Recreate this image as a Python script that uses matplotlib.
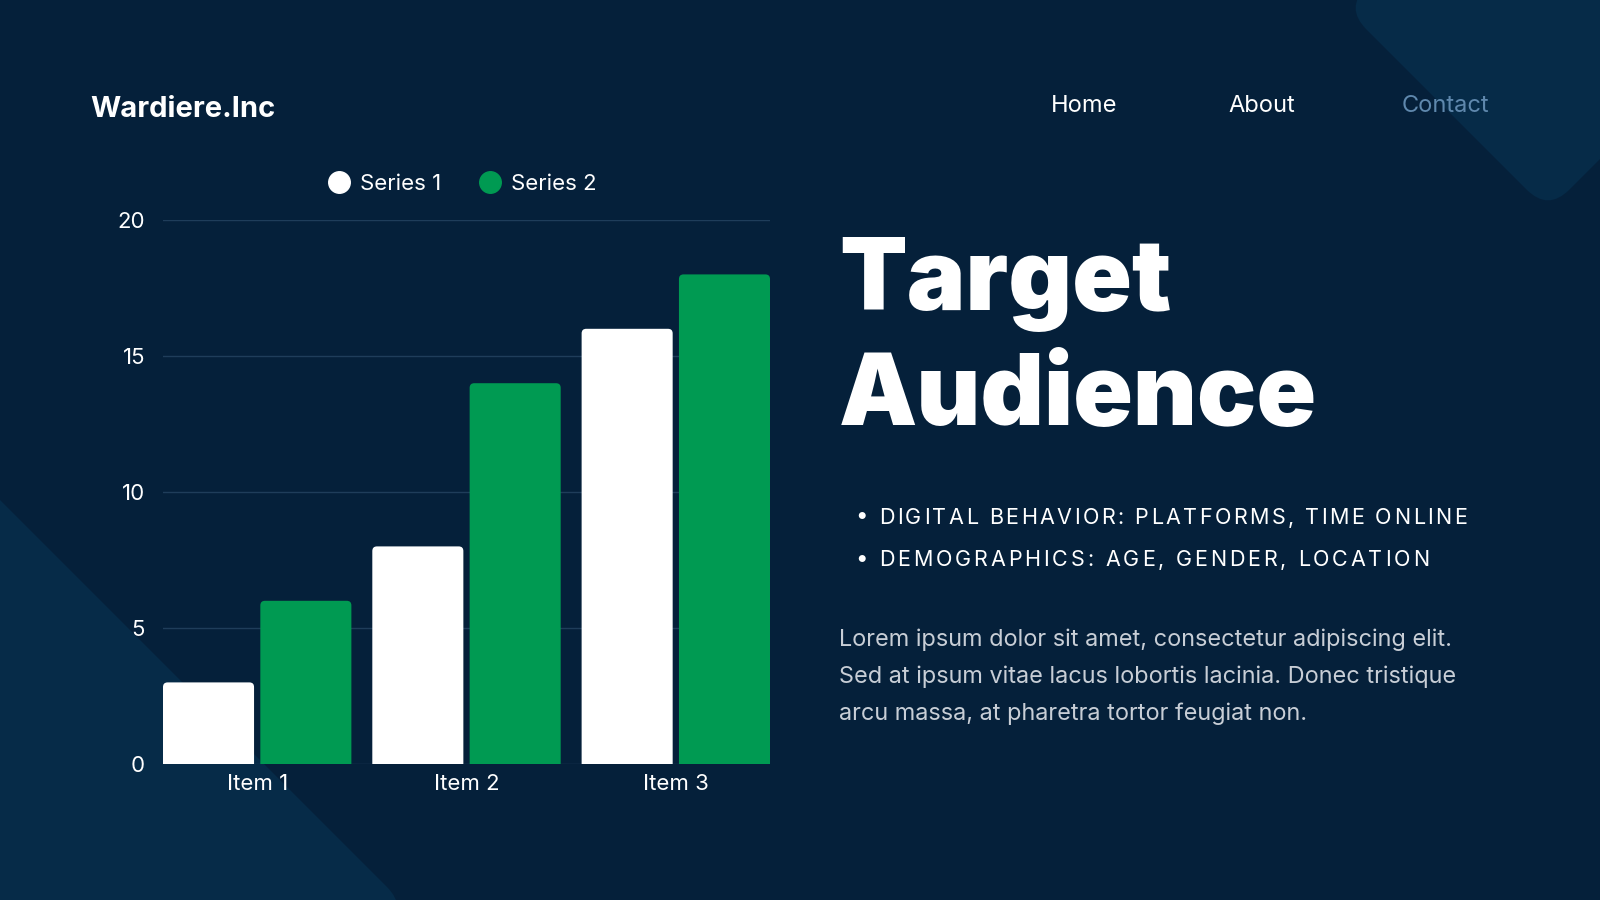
import numpy as np
import matplotlib
matplotlib.use("Agg")
import matplotlib.pyplot as plt
import matplotlib.font_manager as fm
from matplotlib.patches import FancyBboxPatch
from matplotlib.lines import Line2D
from matplotlib.transforms import Affine2D

# --- data ---
categories = ["Item 1", "Item 2", "Item 3"]
series_names = ["Series 1", "Series 2"]
series_1 = [3, 8, 16]
series_2 = [6, 14, 18]
y_ticks = [0, 5, 10, 15, 20]

brand = "Wardiere.Inc"
nav_items = ["Home", "About", "Contact"]
title_lines = ["Target", "Audience"]
bullets = ["DIGITAL BEHAVIOR: PLATFORMS, TIME ONLINE",
           "DEMOGRAPHICS: AGE, GENDER, LOCATION"]
paragraph = ["Lorem ipsum dolor sit amet, consectetur adipiscing elit.",
             "Sed at ipsum vitae lacus lobortis lacinia. Donec tristique",
             "arcu massa, at pharetra tortor feugiat non."]

BG = "#05203a"
SHAPE = "#062b48"
GREEN = "#009a52"
GRID = "#1f3d5a"
MUTED = "#5f88ad"
BODY = "#c8ced6"


def weights_of(name):
    out = []
    for f in fm.fontManager.ttflist:
        if f.name == name:
            try:
                out.append(int(f.weight))
            except (TypeError, ValueError):
                pass
    return out


# pick a heavy face for the headline
HEAVY = None
for fam in ["Inter", "Roboto", "Lato", "Open Sans", "Noto Sans"]:
    if any(w >= 800 for w in weights_of(fam)):
        HEAVY = fam
        break
if HEAVY is None:
    HEAVY = "Inter"
FONT = "Inter"

plt.rcParams['font.family'] = [FONT, 'DejaVu Sans']

fig = plt.figure(figsize=(16, 9), dpi=100, facecolor=BG)

# background layer in pixel coords (y down)
bg = fig.add_axes([0, 0, 1, 1])
bg.set_xlim(0, 1600)
bg.set_ylim(900, 0)
bg.axis('off')
bg.set_zorder(0)


def diamond(cx, cy, half_diag, r):
    s = half_diag * np.sqrt(2)
    p = FancyBboxPatch((cx - s / 2, cy - s / 2), s, s,
                       boxstyle=f"round,pad=0,rounding_size={r}",
                       fc=SHAPE, ec='none')
    p.set_transform(Affine2D().rotate_deg_around(cx, cy, 45) + bg.transData)
    bg.add_patch(p)


diamond(1548, 8, 203, 30)
diamond(-193, 907, 600, 28)

# header
bg.text(90, 117, brand, fontsize=21, weight='bold', color='white', va='baseline')
for name, x0, col in zip(nav_items, [1051, 1228, 1402], ['white', 'white', MUTED]):
    bg.text(x0, 112, name, fontsize=17, color=col, va='baseline')

# title
for line, yb in zip(title_lines, [310, 425]):
    bg.text(839, yb, line, fontsize=71, weight=900, color='white', va='baseline',
            family=[HEAVY, 'DejaVu Sans'])

renderer = fig.canvas.get_renderer()


def spaced_text(x, y, s, width, **kw):
    # spread the characters so the run spans `width` pixels
    ws = []
    for ch in s:
        t = bg.text(0, 0, ch, **kw)
        ws.append(t.get_window_extent(renderer).width)
        t.remove()
    track = (width - sum(ws)) / (len(s) - 1)
    cur = x
    for ch, w in zip(s, ws):
        bg.text(cur, y, ch, va='baseline', ha='left', **kw)
        cur += w + track


for line, yc, wid in zip(bullets, [516, 559], [588, 550]):
    bg.text(861, yc, "\u2022", fontsize=16, color='white', ha='center', va='center')
    spaced_text(879, yc + 7.5, line, wid, fontsize=15.5, color='white')

for line, yb in zip(paragraph, [646, 683, 720]):
    bg.text(839, yb, line, fontsize=16.9, color=BODY, va='baseline')

# --- chart ---
ax = fig.add_axes([163 / 1600, 1 - 764 / 900, (770 - 163) / 1600, 544 / 900])
ax.set_facecolor('none')
ax.set_zorder(2)

x = np.arange(len(categories))
w = 0.435
off = 0.2325
bars1 = ax.bar(x - off, series_1, w, color='white')
bars2 = ax.bar(x + off, series_2, w, color=GREEN)
ax.set_xlim(-0.45, 2.45)
ax.set_ylim(0, 20)

# rounded tops: y-units per x-unit on screen
aspect = (20 / 544) / (2.9 / 607)
for b in list(bars1) + list(bars2):
    b.set_visible(False)
    p = FancyBboxPatch((b.get_x(), -1), b.get_width(), b.get_height() + 1,
                       boxstyle="round,pad=0,rounding_size=0.022",
                       mutation_aspect=aspect, fc=b.get_facecolor(), ec='none')
    ax.add_patch(p)

ax.set_yticks(y_ticks)
ax.set_xticks(x)
ax.set_xticklabels(categories)
ax.grid(axis='y', color=GRID, lw=1)
ax.set_axisbelow(True)
for sp in ax.spines.values():
    sp.set_visible(False)
ax.tick_params(axis='both', length=0, labelcolor='white', labelsize=16)
ax.tick_params(axis='y', pad=13)
ax.tick_params(axis='x', pad=7)

handles = [Line2D([], [], marker='o', ls='', ms=15.5, mfc=c, mec=c) for c in ['white', GREEN]]
ax.legend(handles, series_names, loc='center', bbox_to_anchor=(0.495, 1.066), ncol=2,
          frameon=False, fontsize=16, labelcolor='white', handlelength=0.8,
          handletextpad=0.55, columnspacing=1.8)

fig.savefig("out.png", dpi=100, facecolor=BG)
